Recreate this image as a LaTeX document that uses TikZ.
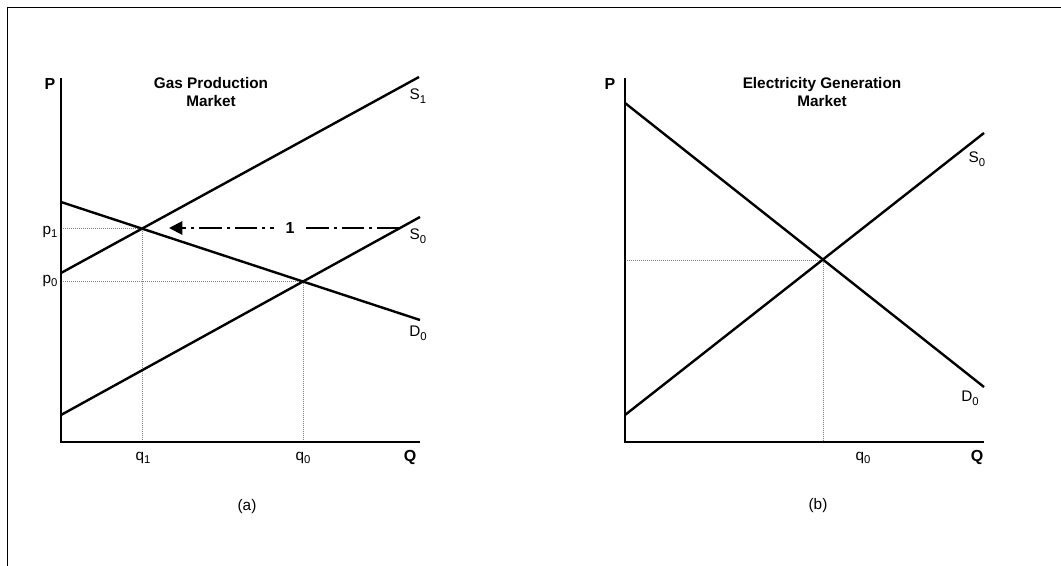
\documentclass[tikz,border=0pt]{standalone}
\usepackage{fontspec}
\setmainfont{Liberation Sans}
\usetikzlibrary{arrows.meta}
\newcommand{\lowsub}[1]{\raisebox{-0.45ex}{\fontsize{8.5}{9}\selectfont #1}}
\begin{document}
\begin{tikzpicture}[x=0.75pt,y=-0.75pt,>={Triangle[length=10pt,width=10pt]},
  curve/.style={line width=1.8pt},
  axis/.style={line width=1.2pt},
  guide/.style={gray,densely dotted,line width=0.5pt},
  lbl/.style={font=\fontsize{11.5}{13}\selectfont},
  bold/.style={font=\fontsize{12}{14}\selectfont\bfseries},
  ttl/.style={font=\fontsize{11.5}{14}\selectfont\bfseries,align=center}]
\useasboundingbox (0,0) rectangle (1061,566);
\draw[line width=1pt] (7.5,566) -- (7.5,7.5) -- (1061,7.5);

% (a) gas production market
\coordinate (aP) at (61,78);
\coordinate (aO) at (61,442);
\coordinate (aQ) at (420,442);
\coordinate (e1) at (142,228);
\coordinate (e0) at (303,281);
\draw[guide] (61,228) -- (e1) -- (142,442);
\draw[guide] (61,281) -- (e0) -- (303,442);
\draw[axis] (aP) -- (aO) -- (aQ);
\draw[curve] (61,273) -- (419,77);
\draw[curve] (61,202) -- (420,320);
\draw[curve] (61,415) -- (420,217);
\coordinate (shift) at (400,228);
\coordinate (tip) at (169,228);
\draw[->,line width=1.5pt,dash pattern=on 17pt off 3.75pt on 2.25pt off 3.75pt]
  (shift) -- node[pos=0.476,fill=white,bold,inner xsep=9pt,inner ysep=2pt] (one) {1} (tip);
\node[bold] (aPl) at (50,84) {P};
\node[ttl] (aT) at (211,92) {Gas Production\\Market};
\node[lbl] (aS1) at (418,96) {S\lowsub{1}};
\node[lbl] (aS0) at (418,236) {S\lowsub{0}};
\node[lbl] (aD0) at (418,333) {D\lowsub{0}};
\node[lbl] (ap1) at (50,232) {p\lowsub{1}};
\node[lbl] (ap0) at (50,281) {p\lowsub{0}};
\node[lbl] (aq1) at (143,458) {q\lowsub{1}};
\node[lbl] (aq0) at (303,458) {q\lowsub{0}};
\node[bold] (aQl) at (410,457) {Q};
\node[lbl] (acap) at (247,507) {(a)};

% (b) electricity generation market
\coordinate (bP) at (625,78);
\coordinate (bO) at (625,442);
\coordinate (bQ) at (984,442);
\coordinate (be) at (823,260);
\draw[guide] (625,260) -- (be) -- (823,442);
\draw[axis] (bP) -- (bO) -- (bQ);
\draw[curve] (625,103) -- (984,387);
\draw[curve] (625,415) -- (984,133);
\node[bold] (bPl) at (610,84) {P};
\node[ttl] (bT) at (822,92) {Electricity Generation\\Market};
\node[lbl] (bS0) at (977,159) {S\lowsub{0}};
\node[lbl] (bD0) at (970,398) {D\lowsub{0}};
\node[lbl] (bq0) at (863,458) {q\lowsub{0}};
\node[bold] (bQl) at (977,457) {Q};
\node[lbl] (bcap) at (818,506) {(b)};
\end{tikzpicture}
\end{document}
